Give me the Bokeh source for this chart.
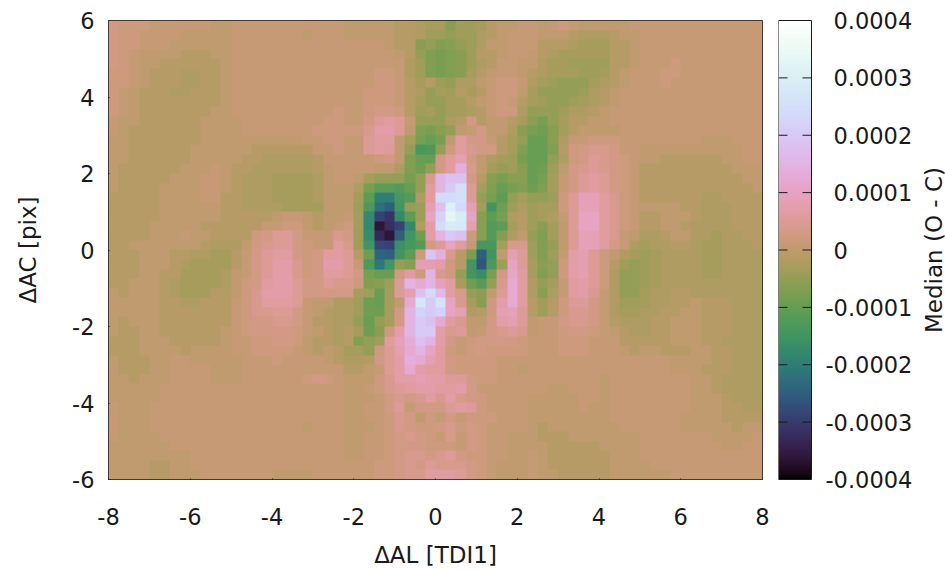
import math
import numpy as np
from bokeh.core.properties import value
from bokeh.embed import file_html
from bokeh.layouts import row
from bokeh.models import ColumnDataSource, FixedTicker, LinearColorMapper, Range1d
from bokeh.plotting import figure
from bokeh.resources import INLINE

# Median (O - C) in units of 1e-5, one row per y-bin from the top.
# Columns 0-22
grid_left = [
[3,2,2,2,1,1,1,1,1,1,0,0,1,1,1,1,1,1,1,1,1,1,1],
[3,2,2,1,1,1,1,0,0,0,0,0,1,1,1,1,1,1,1,0,1,1,1],
[3,2,2,1,1,1,0,0,0,0,0,0,1,1,1,1,1,1,1,1,1,1,1],
[3,2,1,0,0,0,0,-1,-1,-1,0,0,1,1,1,1,1,1,1,1,1,1,1],
[3,2,1,0,0,-1,-1,-1,-1,-1,-1,0,1,1,1,1,1,1,1,1,1,1,1],
[2,2,1,0,-1,-1,-1,-2,-2,-1,-1,0,1,1,1,1,1,1,1,1,1,1,1],
[2,2,1,0,-1,-1,-1,-2,-2,-1,-1,0,1,1,1,1,1,1,1,1,1,1,1],
[2,1,0,-1,-1,-1,-2,-2,-1,-1,-1,0,1,1,1,1,1,1,1,1,1,1,1],
[2,1,0,-1,-1,-1,-1,-1,-1,-1,-1,0,1,1,1,1,1,1,1,1,1,1,1],
[2,1,0,-1,-1,-1,-1,-1,-1,-1,0,0,1,1,1,1,1,1,1,1,1,1,2],
[1,0,0,-1,-1,-1,-1,-1,-1,0,0,0,0,1,1,1,1,1,1,1,1,2,2],
[1,0,-1,-1,-1,-1,-1,-1,-1,0,0,0,0,1,1,1,1,1,1,1,2,2,2],
[0,0,-1,-1,-1,-1,-1,-1,-1,0,0,0,0,0,0,0,0,0,0,1,1,2,2],
[0,0,-1,-1,-1,-1,-1,-1,0,0,0,0,0,0,-1,-1,-1,-1,-1,-1,1,1,2],
[0,0,-1,-1,-1,-1,-1,-1,0,0,0,0,0,-1,-1,-2,-2,-2,-2,-2,-1,1,1],
[0,-1,-1,-1,-1,-1,-1,0,0,0,1,0,-1,-1,-2,-2,-2,-2,-2,-2,-1,0,1],
[0,-1,-1,-1,-1,-1,0,0,0,1,1,0,-1,-2,-2,-2,-3,-3,-3,-3,-2,0,1],
[0,-1,-1,-1,-1,0,0,0,0,1,1,0,-1,-2,-2,-2,-3,-3,-3,-3,-2,0,0],
[-1,-1,-1,-1,-1,0,0,0,0,1,1,-1,-1,-2,-2,-2,-3,-3,-3,-3,-2,0,0],
[-1,-1,-1,-1,-1,0,0,0,0,0,0,-1,-1,-2,-2,-2,-2,-3,-3,-3,-3,0,0],
[-1,-1,-1,-1,-1,0,0,0,0,0,0,-1,-1,-1,-1,-1,0,1,1,0,-1,0,0],
[-1,-1,-1,-1,0,0,0,0,0,-1,-1,-1,-1,-1,-1,1,1,2,2,0,-1,0,1],
[-1,-1,-1,-1,0,0,0,1,0,0,-1,-1,-1,-1,2,3,5,5,3,1,1,1,4],
[-1,-1,0,0,0,0,0,0,0,-1,-2,-2,-2,0,3,4,5,5,3,2,1,1,6],
[-1,-1,-1,0,0,0,-1,-1,-2,-2,-3,-3,-1,1,3,5,6,6,3,2,3,6,6],
[-1,-1,-1,0,0,0,-1,-2,-3,-3,-3,-3,-1,1,3,5,7,7,4,2,3,7,7],
[-1,-1,-1,0,0,-1,-1,-3,-3,-3,-3,-2,0,1,3,5,7,7,4,2,3,6,6],
[-1,-1,0,0,0,-1,-2,-3,-3,-3,-3,-2,0,2,3,6,7,7,5,3,3,5,4],
[0,-1,0,0,0,-1,-2,-3,-3,-3,-1,-1,0,2,4,7,7,7,5,3,3,3,3],
[0,0,0,0,0,-1,-1,-2,-2,-1,-1,-1,1,2,4,6,6,6,5,1,0,0,-2],
[0,0,0,0,0,-1,-1,-1,-1,-1,-1,-1,1,2,4,4,5,5,3,1,0,-1,-2],
[0,-1,0,0,0,-1,-1,-1,-1,-1,-1,-1,1,2,3,3,4,4,3,1,-1,-1,-2],
[0,-1,-1,0,0,-1,-1,-1,-1,-1,-1,0,1,2,3,3,3,3,2,1,0,-1,-2],
[-1,-1,-1,0,0,0,-1,-1,-1,-1,-1,0,1,1,2,2,3,3,2,0,-1,-1,-2],
[-1,-1,-1,0,0,0,0,-1,0,0,0,0,1,1,2,2,2,2,1,0,-1,0,-1],
[0,-1,-1,-1,0,0,1,1,0,0,0,0,0,1,1,1,2,1,1,1,1,0,-1],
[0,-1,-1,-1,0,0,1,1,1,1,0,0,0,1,1,1,1,1,1,1,1,1,1],
[0,0,-1,0,0,0,1,1,1,1,0,0,0,1,1,1,1,1,1,2,3,2,1],
[0,0,0,0,0,1,1,1,1,1,1,1,1,1,1,1,1,1,1,1,1,1,1],
[0,0,0,0,0,1,1,1,1,1,1,1,1,1,1,1,1,1,1,1,1,1,1],
[1,0,0,0,1,1,1,1,1,1,1,1,1,1,1,1,1,1,1,1,1,1,1],
[1,0,0,0,1,1,1,1,1,1,1,1,1,1,1,1,1,1,1,1,1,1,1],
[1,0,0,0,1,1,1,1,1,1,1,1,1,1,1,1,1,1,1,0,1,1,1],
[1,0,0,0,0,1,1,1,1,1,1,1,1,1,1,1,1,1,1,1,1,1,1],
[0,0,0,0,0,0,1,1,1,1,1,1,1,1,1,1,1,1,1,1,1,1,1],
[0,0,0,0,0,0,0,0,1,1,1,1,1,1,1,1,1,1,1,1,1,1,1],
[0,0,0,0,-1,-1,0,0,1,1,1,1,1,1,1,1,1,1,1,1,1,1,1],
[0,0,0,0,-1,-1,0,0,0,1,1,1,1,1,1,1,0,0,0,0,1,1,1],
]
# Columns 23-40
grid_mid = [
[0,0,0,0,0,-1,-1,-2,-3,-3,-6,-4,-4,-3,-1,0,0,1],
[0,0,0,0,0,-1,-1,-2,-4,-4,-5,-4,-4,-2,-1,0,1,1],
[1,1,1,1,0,-1,-1,-6,-5,-7,-6,-5,-4,-2,0,0,1,1],
[1,1,1,1,1,0,-1,-5,-7,-8,-7,-6,-4,-1,-1,0,1,1],
[1,1,1,1,1,1,-2,-4,-7,-8,-7,-6,-4,-2,-1,1,1,0],
[1,1,1,2,2,1,-2,-4,-7,-8,-7,-6,-3,-1,0,1,1,0],
[1,1,1,2,2,1,-1,-3,-1,-4,-5,-2,-2,0,1,2,2,1],
[1,1,2,2,2,1,-1,-2,-5,-3,-4,-1,-3,-1,1,2,2,0],
[1,1,2,2,2,1,-1,-3,-5,-5,-3,-3,-1,0,1,2,1,-1],
[1,1,2,3,3,2,-1,-4,-3,-5,-3,-3,-2,-1,1,2,2,-2],
[1,1,3,5,6,5,1,-5,-5,-5,-2,-1,3,-1,0,0,-1,-3],
[2,2,4,7,7,5,0,-7,-8,-6,-5,0,1,3,0,0,-2,-6],
[1,1,5,6,6,0,-3,-8,-10,-8,0,6,3,3,1,-1,-3,-5],
[1,1,5,6,5,0,-5,-14,-13,-5,2,6,4,3,3,-1,-3,-7],
[1,1,1,2,3,0,-7,-10,-10,3,6,8,3,0,-2,-3,-4,-8],
[1,1,1,0,0,-2,-7,-9,-5,3,6,14,4,0,-3,-5,-4,-6],
[1,0,-3,-5,-5,-5,-8,-5,4,15,18,18,3,-1,-6,-8,-6,-6],
[0,-2,-8,-11,-11,-12,-10,-5,6,15,20,25,5,-3,-7,-10,-8,-7],
[0,-3,-11,-20,-20,-14,-12,-2,6,24,24,25,5,-5,-8,-11,-5,-3],
[0,-4,-13,-22,-25,-15,-5,-4,8,18,30,24,8,-3,-15,-9,-4,-2],
[1,-3,-18,-29,-31,-18,-11,-4,10,22,33,29,10,-6,-11,-8,-2,-1],
[2,-3,-18,-36,-32,-29,-18,-2,7,24,29,28,8,-6,-12,-11,-3,-1],
[3,-4,-17,-33,-36,-25,-15,-9,7,15,20,18,2,-6,-12,-7,-2,0],
[4,-4,-15,-28,-29,-16,-14,-12,3,5,10,6,1,-14,-14,-3,4,4],
[5,-1,-9,-24,-25,-15,-11,2,19,14,4,-1,-8,-25,-15,0,8,5],
[5,1,-13,-21,-15,-5,-6,8,8,7,2,-1,-15,-26,-13,-4,10,5],
[5,3,-8,-10,-10,3,6,2,15,4,2,-5,-15,-17,-8,3,11,6],
[4,2,-7,-6,-4,5,15,12,15,9,6,-3,-9,-12,-5,4,12,6],
[3,-3,-4,-10,-3,5,8,18,24,16,6,4,-5,-6,0,5,12,6],
[-2,-4,-9,-10,-3,0,12,27,20,26,10,4,-3,-6,2,7,12,6],
[-2,-4,-9,-9,-3,3,15,22,20,22,10,8,-2,-1,2,8,9,5],
[-2,-5,-10,-5,-3,3,15,20,18,12,6,4,0,0,3,7,8,5],
[-1,-3,-9,-6,2,7,15,20,20,7,4,5,0,1,3,4,5,4],
[-1,-7,-5,-4,6,9,13,18,15,7,3,1,2,3,3,3,3,2],
[-3,-3,-5,2,5,8,12,15,10,6,2,1,2,3,2,2,2,2],
[-2,-2,-1,3,5,7,14,12,8,6,3,2,2,2,2,1,1,1],
[-1,-1,0,1,5,7,12,7,6,6,3,2,2,2,2,1,1,0],
[0,0,0,2,4,7,7,8,7,7,5,5,3,2,2,1,1,1],
[0,0,1,2,4,5,6,7,7,6,6,7,3,1,1,1,1,1],
[0,0,0,1,3,4,3,4,6,4,7,4,3,2,1,1,1,1],
[0,0,1,1,3,5,1,3,3,3,5,6,5,2,1,1,1,1],
[0,0,1,1,2,4,3,0,2,1,3,1,2,2,2,1,1,1],
[0,0,0,1,2,4,3,2,2,3,4,2,3,2,1,1,1,1],
[0,0,1,1,2,3,4,3,2,1,4,1,3,2,1,1,0,0],
[0,0,1,1,2,3,3,3,2,2,2,1,3,2,1,1,0,0],
[0,0,1,1,2,3,4,4,3,4,5,3,2,2,1,1,0,0],
[1,1,1,2,2,3,4,3,5,4,4,4,3,2,1,0,0,0],
[1,1,1,2,2,3,4,4,6,6,6,5,3,2,1,0,0,0],
]
# Columns 41-63
grid_right = [
[1,0,1,2,1,0,0,0,0,0,1,1,1,1,1,1,1,1,1,1,1,1,1],
[1,0,0,0,-1,-2,-2,-2,-1,0,0,1,1,1,1,1,1,1,1,1,1,1,1],
[1,-1,-1,-1,-2,-3,-3,-3,-1,-1,0,1,1,1,1,1,1,1,1,1,1,1,1],
[0,-1,-2,-3,-3,-3,-3,-3,-1,-1,0,1,1,1,1,1,1,1,1,1,1,1,1],
[0,-2,-3,-3,-4,-4,-4,-4,-1,-1,0,1,1,1,2,1,1,1,1,1,1,1,1],
[-1,-2,-3,-3,-3,-4,-4,-3,-1,0,1,1,1,2,2,1,1,1,1,1,1,1,1],
[-2,-3,-4,-5,-5,-5,-3,-2,-1,0,1,1,1,2,1,1,1,1,1,1,1,1,1],
[-3,-5,-5,-5,-5,-4,-2,-1,0,1,1,1,1,1,1,1,1,1,1,1,1,1,1],
[-3,-4,-5,-5,-4,-3,-2,-1,0,1,1,1,1,1,1,1,1,1,1,1,1,1,1],
[-5,-5,-5,-4,-2,-2,-1,0,1,1,1,1,1,1,1,1,1,1,1,1,1,1,1],
[-6,-8,-5,-3,-1,-1,0,0,1,1,1,1,1,1,1,1,1,1,1,1,1,1,1],
[-8,-9,-6,-3,-1,0,0,0,0,1,1,1,1,1,1,1,1,1,1,1,1,1,1],
[-10,-10,-6,-2,1,1,2,2,2,1,1,1,1,1,1,1,1,0,0,0,1,1,1],
[-10,-10,-7,-1,2,3,4,4,3,1,1,0,0,0,0,0,0,0,0,0,0,1,1],
[-10,-10,-5,-2,2,3,5,4,3,2,1,0,0,-1,-1,-1,-1,-1,-1,0,0,1,1],
[-10,-9,-4,0,3,4,5,4,3,2,1,-1,-1,-1,-1,-1,-1,-1,-1,-1,0,0,0],
[-10,-8,-3,1,3,5,6,5,3,2,1,-1,-1,-1,-1,-1,-1,-1,-1,-1,-1,0,0],
[-9,-7,-3,1,3,5,6,5,3,2,1,-1,-1,-1,-1,-1,-1,-1,-1,-1,-1,-1,0],
[-5,-5,-4,2,5,9,9,6,4,2,1,-1,-1,-1,-1,-1,-1,-2,-2,-1,-1,-1,-1],
[-4,-3,-3,2,5,9,9,6,4,2,1,0,0,0,0,-1,-1,-2,-2,-2,-1,-1,-1],
[-4,-3,-2,1,5,10,10,6,4,2,1,-1,-1,0,0,0,-1,-2,-2,-2,-1,-1,-1],
[-4,-6,-3,0,5,10,10,6,4,2,1,-1,-1,0,0,-1,-2,-2,-2,-2,-1,-1,-1],
[-5,-7,-3,0,5,9,9,6,4,1,0,-2,-2,-1,0,0,-2,-2,-3,-2,-2,-1,-1],
[-4,-7,-5,0,5,9,9,6,3,1,-2,-3,-2,-2,-1,-1,-2,-3,-3,-2,-2,-2,-1],
[-4,-7,-4,1,7,8,5,2,0,-2,-3,-4,-3,-2,-2,-2,-2,-3,-3,-2,-2,-2,-2],
[-3,-6,-5,2,7,8,5,2,-1,-4,-5,-4,-3,-2,-2,-2,-2,-3,-3,-2,-2,-2,-2],
[-3,-7,-5,2,7,8,5,2,-2,-5,-5,-4,-3,-2,-2,-2,-2,-3,-3,-2,-2,-2,-2],
[-2,-5,-3,1,6,7,5,2,-2,-5,-5,-4,-3,-2,-2,-2,-2,-2,-2,-2,-2,-2,-2],
[-2,-6,-2,1,6,7,4,1,-2,-5,-5,-3,-2,-2,-1,-1,-2,-2,-2,-2,-2,-2,-2],
[-1,-4,-1,2,5,5,3,1,-2,-4,-4,-3,-2,-2,-1,-1,0,-1,-1,-1,-2,-2,-2],
[-1,-4,-1,2,4,4,3,1,-2,-3,-3,-2,-2,-1,-1,0,0,-1,-1,-1,-2,-2,-2],
[0,1,1,3,4,4,3,1,-1,-2,-2,-2,-1,-1,0,0,0,-1,-1,-1,-2,-2,-2],
[0,1,1,2,3,3,2,1,0,-1,-2,-2,-1,-1,0,0,0,-1,-1,-1,-2,-2,-2],
[1,1,1,2,2,2,1,1,1,-1,-1,-1,-1,-1,0,0,0,-1,-1,-2,-2,-2,-2],
[1,1,1,2,2,2,1,1,1,0,-1,0,0,-1,-1,-1,0,0,-1,-1,-2,-2,-2],
[1,1,1,1,1,1,1,1,1,1,1,1,1,1,0,0,0,0,-1,-1,-2,-2,-2],
[1,1,1,1,1,1,1,1,1,1,1,1,1,1,0,0,0,-1,-1,-1,-2,-2,-2],
[1,1,1,1,1,1,1,0,1,1,1,1,1,1,1,1,0,0,-1,-2,-2,-2,-2],
[1,1,0,0,1,1,1,0,1,1,1,1,1,1,1,1,0,0,-1,-2,-2,-2,-2],
[0,0,0,0,0,1,1,0,1,1,1,1,1,1,1,1,0,0,0,-1,-2,-2,-2],
[0,0,0,0,0,1,0,0,1,1,1,1,1,1,1,1,0,0,0,-1,-1,-2,-2],
[0,0,0,0,0,0,0,0,1,1,1,1,1,1,1,0,0,0,0,-1,-1,-1,-1],
[0,-1,0,0,0,0,0,0,0,1,1,1,1,1,1,0,0,0,0,0,-1,0,0],
[0,-1,-1,-1,0,0,0,0,0,0,0,1,1,1,1,1,1,1,0,0,0,0,1],
[0,0,-1,-1,-1,-1,-1,0,0,0,0,1,1,1,1,1,1,1,1,0,0,1,1],
[1,0,-1,-1,-1,-1,-1,-1,0,0,0,1,1,1,1,1,1,1,1,1,1,1,1],
[1,0,-1,-1,-1,-1,-1,-1,0,0,0,0,1,1,1,1,1,1,1,1,1,1,1],
[1,0,0,-1,-1,-1,-1,-1,0,0,0,0,0,0,1,1,1,1,1,1,1,1,1],
]

x_ticks = [-8, -6, -4, -2, 0, 2, 4, 6, 8]
y_ticks = [-6, -4, -2, 0, 2, 4, 6]
cb_ticks = [-40, -30, -20, -10, 0, 10, 20, 30, 40]
cb_labels = ["-0.0004", "-0.0003", "-0.0002", "-0.0001", "0", "0.0001", "0.0002", "0.0003", "0.0004"]
x_label, y_label, cb_label = "ΔAL [TDI1]", "ΔAC [pix]", "Median (O - C)"

FONT = "DejaVu Sans"
TICK_SIZE = "22.5px"
LABEL_SIZE = "23px"
INK = "#1a1a1a"


def cubehelix(n=256, start=0.5, cycles=-1.5, sat=1.0, gamma=1.5):
    out = []
    for i in range(n):
        f = i / (n - 1)
        phi = 2 * math.pi * (start / 3 + cycles * f)
        g = f ** (1 / gamma)
        a = sat * g * (1 - g) / 2
        c, s = math.cos(phi), math.sin(phi)
        rgb = (g + a * (-0.14861 * c + 1.78277 * s),
               g + a * (-0.29227 * c - 0.90649 * s),
               g + a * (1.97294 * c))
        out.append("#%02x%02x%02x" % tuple(int(round(255 * min(1, max(0, v)))) for v in rgb))
    return out


mapper = LinearColorMapper(palette=cubehelix(), low=-40, high=40)
grid = np.hstack([np.array(grid_left), np.array(grid_mid), np.array(grid_right)])[::-1].astype(float)


def style_axis(ax, ticks, labels):
    ax.ticker = FixedTicker(ticks=ticks)
    ax.major_label_overrides = dict(zip(ticks, labels))
    ax.major_label_text_font = FONT
    ax.major_label_text_font_size = TICK_SIZE
    ax.major_label_text_color = INK
    ax.major_label_text_line_height = 1.0
    ax.axis_label_text_font = FONT
    ax.axis_label_text_font_size = LABEL_SIZE
    ax.axis_label_text_font_style = "normal"
    ax.axis_label_text_color = INK
    ax.axis_label_text_line_height = 1.0
    ax.minor_tick_line_color = None
    ax.axis_line_color = None
    ax.major_tick_line_color = INK
    ax.major_tick_in = 1
    ax.major_tick_out = 0


p = figure(width=770, height=570, output_backend="svg", toolbar_location=None,
           x_range=Range1d(-8, 8), y_range=Range1d(-6, 6),
           min_border_left=108, min_border_right=8, min_border_top=20, min_border_bottom=91)
p.frame_align = False
p.image(image=[grid], x=-8, y=-6, dw=16, dh=12, color_mapper=mapper)
p.grid.visible = False
p.outline_line_color = INK
style_axis(p.xaxis[0], x_ticks, [str(t) for t in x_ticks])
style_axis(p.yaxis[0], y_ticks, [str(t) for t in y_ticks])
p.xaxis[0].axis_label = x_label
p.yaxis[0].axis_label = y_label
p.xaxis[0].major_label_standoff = 28
p.xaxis[0].axis_label_standoff = 14
p.yaxis[0].major_label_standoff = 14
p.yaxis[0].axis_label_standoff = 28

# The colour bar's frame runs past the bar on three sides, so its texts sit inside it:
# x is in bar widths, y in the colour scale's units.
BAR_PX = 33
FRAME_PX = 167
BAR_H_PX = 459
PAD_PX = 16
pad = 80 * PAD_PX / BAR_H_PX
cb = figure(width=175, height=570, output_backend="svg", toolbar_location=None,
            x_range=Range1d(0, FRAME_PX / BAR_PX), y_range=Range1d(-40 - pad, 40 + pad),
            min_border_left=8, min_border_right=0, min_border_top=20 - PAD_PX, min_border_bottom=91 - PAD_PX)
cb.frame_align = False
cb.image(image=[np.linspace(-40, 40, 256).reshape(256, 1)], x=0, y=-40, dw=1, dh=80, color_mapper=mapper)
cb.grid.visible = False
cb.axis.visible = False
cb.outline_line_color = None
cb.quad(left=[0], right=[1], bottom=[-40], top=[40], fill_color=None, line_color=INK)

TICK_FRAC = 9 / BAR_PX
inner = cb_ticks[1:-1]
cb.segment(x0=[0] * len(inner), x1=[TICK_FRAC] * len(inner), y0=inner, y1=inner, line_color=INK, line_width=1)
cb.segment(x0=[1] * len(inner), x1=[1 - TICK_FRAC] * len(inner), y0=inner, y1=inner, line_color=INK, line_width=1)

# Non-negative labels start level with each other; a minus sign hangs out to their left.
label_x = [1 + (14 if t.startswith("-") else 22) / BAR_PX for t in cb_labels]
labels = ColumnDataSource(dict(x=label_x, y=cb_ticks, text=cb_labels))
cb.text(x="x", y="y", text="text", source=labels, text_align="left", text_baseline="middle",
        text_font=value(FONT), text_font_size=value(TICK_SIZE), text_color=INK)
cb.text(x=[1 + 122 / BAR_PX], y=[0], text=[cb_label], angle=math.pi / 2, text_align="center",
        text_baseline="middle", text_font=value(FONT), text_font_size=value(LABEL_SIZE), text_color=INK)

open("out.html", "w").write(file_html(row(p, cb, spacing=0), INLINE))
